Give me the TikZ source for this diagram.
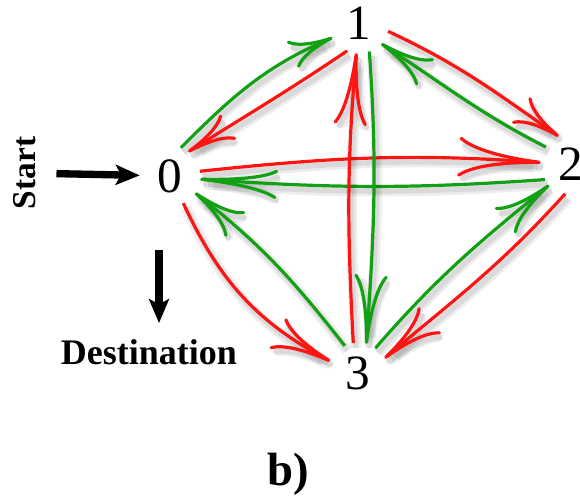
\documentclass[tikz,border=0pt]{standalone}
\usepackage{fontspec}
\setmainfont{Liberation Serif}
\usetikzlibrary{arrows.meta}
\definecolor{pathred}{HTML}{FF1414}
\definecolor{pathgreen}{HTML}{14A014}

\begin{document}
\begin{tikzpicture}[
  x=0.75pt, y=0.75pt,
  state/.style={circle, minimum size=45pt, inner sep=0pt, font=\fontsize{37}{40}\selectfont},
  lbl/.style={font=\bfseries\fontsize{25}{30}\selectfont, inner sep=2pt},
  link/.style 2 args={line width=2.4pt, -{Computer Modern Rightarrow[length=#1, width=#2]},
    preaction={draw=black, opacity=0.07, line width=8pt, transform canvas={shift={(2pt,-3.5pt)}}},
    preaction={draw=black, opacity=0.08, line width=4pt, transform canvas={shift={(2pt,-3.5pt)}}}},
  bigarr/.style={line width=5.5pt, -{Stealth[length=18pt, width=15pt, inset=4pt]}}
]
\useasboundingbox (0,0) rectangle (580,499);

% states
\node[state] (n0) at (170,323) {0};
\node[state] (n1) at (359,476) {1};
\node[state] (n2) at (571,335) {2};
\node[state] (n3) at (358,126) {3};

\node[lbl, rotate=90] (start) at (25,326) {Start};
\node[lbl, font=\bfseries\fontsize{27}{32}\selectfont] (dest) at (149,147) {Destination};
\coordinate (dtop) at (159,249);
\node[font=\bfseries\fontsize{35}{40}\selectfont, anchor=base] (cap) at (288,14) {b)};

\draw[bigarr, shorten <=13pt] (start) -- (n0);
\draw[bigarr, shorten >=10pt] (dtop) -- (dtop |- dest.north);

% 0 -- 1
\draw[link={33pt}{22pt}, pathgreen] (n0.69) to[out=45, in=203] (n1.209);
\draw[link={36pt}{22pt}, pathred] (n1.247) to[out=214, in=32] (n0.53);
% 0 -- 2
\draw[link={62pt}{30pt}, pathred] (n0.9) to[out=6, in=176] (n2.177);
\draw[link={58pt}{22pt}, pathgreen] (n2.211) to[out=184, in=-4] (n0.-6);
% 0 -- 3
\draw[link={45pt}{26pt}, pathred] (n0.-64) to[out=-65, in=152] (n3.157);
\draw[link={39pt}{24pt}, pathgreen] (n3.116) to[out=128, in=-38] (n0.-34);
% 1 -- 3
\draw[link={54pt}{25pt}, pathred] (n3.99) to[out=93, in=265] (n1.265);
\draw[link={52pt}{25pt}, pathgreen] (n1.290) to[out=-86, in=86] (n3.74);
% 2 -- 3
\draw[link={43pt}{25pt}, pathgreen] (n3.55) to[out=49, in=219] (n2.224);
\draw[link={45pt}{26pt}, pathred] (n2.259) to[out=228, in=40] (n3.29);
% 1 -- 2
\draw[link={35pt}{24pt}, pathred] (n1.344) to[out=-25, in=145] (n2.114);
\draw[link={40pt}{24pt}, pathgreen] (n2.146) to[out=153, in=-33] (n1.317);
\end{tikzpicture}
\end{document}
